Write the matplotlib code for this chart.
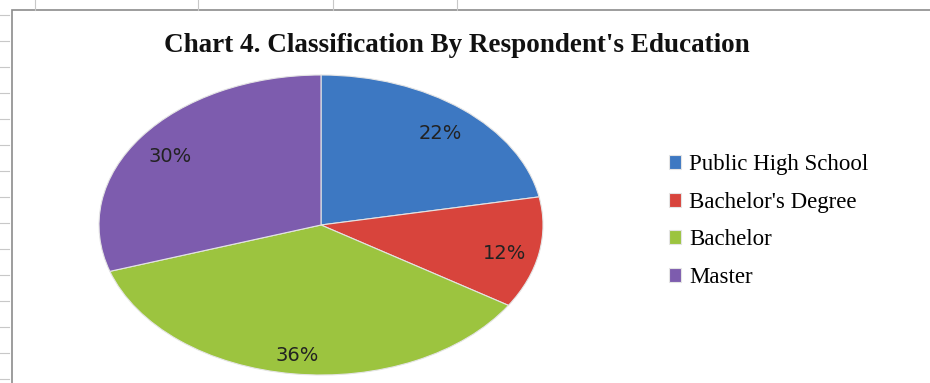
import matplotlib
matplotlib.use("Agg")
from matplotlib import pyplot as plt
from matplotlib.patches import Rectangle
from matplotlib.lines import Line2D

categories = ["Public High School", "Bachelor's Degree", "Bachelor", "Master"]
shares = [22, 12, 36, 30]
colors = ["#3d78c2", "#d8443c", "#9cc43f", "#7d5cae"]
title = "Chart 4. Classification By Respondent's Education"

W, H = 930, 383
fig = plt.figure(figsize=(W / 100, H / 100), dpi=100)
fig.patch.set_facecolor("white")

# spreadsheet grid remnants behind the chart
for x in [35, 198, 333, 457]:
    fig.add_artist(Line2D([x / W, x / W], [1, 1 - 10 / H], color="#c8c8c8", lw=0.8))
for y in range(15, 383, 26):
    fig.add_artist(Line2D([0, 9 / W], [1 - y / H, 1 - y / H], color="#c8c8c8", lw=0.8))

# chart frame
fig.add_artist(Rectangle((12 / W, -0.05), 1.0, 1 - 10 / H + 0.05, transform=fig.transFigure,
                         fill=False, edgecolor="#8c8c8c", lw=1.2))

# pie drawn as a tilted (elliptical) disc
cx, cy, rx, ry = 321, 225, 222, 150
ax = fig.add_axes([(cx - rx) / W, (H - cy - ry) / H, 2 * rx / W, 2 * ry / H])
wedges, texts, autotexts = ax.pie(
    shares, colors=colors, startangle=90, counterclock=False,
    autopct="%d%%", pctdistance=0.84,
    wedgeprops=dict(edgecolor="#e4e4e4", linewidth=0.8),
    textprops=dict(fontsize=14, color="#222222", family="DejaVu Sans"))
for t in autotexts:
    x, y = t.get_position()
    t.set_position((x, y - 0.035))
ax.set_aspect("auto")
ax.set_xlim(-1, 1)
ax.set_ylim(-1, 1)

fig.text(457 / W, 1 - 45 / H, title, ha="center", va="center",
         fontsize=19.5, fontweight="bold", family="Liberation Serif", color="#111111")

fig.legend(wedges, categories, loc="center left", bbox_to_anchor=(648 / W, 1 - 221 / H),
           frameon=False, handlelength=0.55, handleheight=0.55, handletextpad=0.35,
           labelspacing=0.72, prop=dict(family="Liberation Serif", size=16.5))

fig.savefig("out.png", dpi=100)
